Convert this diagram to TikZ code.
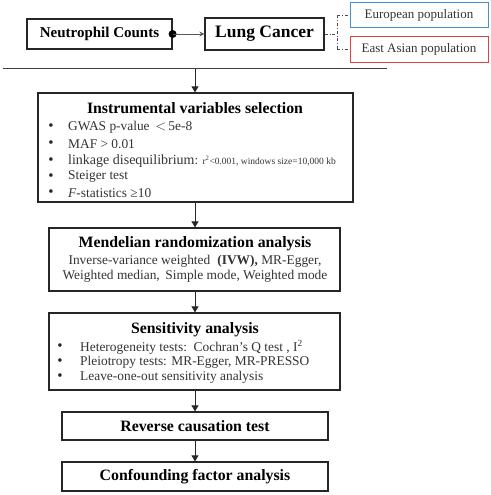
\documentclass[tikz,border=0pt]{standalone}
\usepackage{fontspec}
\setmainfont{Liberation Serif}
\usetikzlibrary{arrows.meta}
\tikzset{
  box/.style={draw=black!85, line width=1.2pt, rectangle, inner sep=0pt},
  flow/.style={draw=black!85, line width=0.9pt, -{Triangle[length=6pt,width=7pt]}},
  ttl/.style={font=\fontsize{15.8}{18}\selectfont\bfseries, inner sep=0pt},
  body/.style={font=\fontsize{13.4}{15}\selectfont, text=black!80, inner sep=0pt},
  bul/.style={font=\fontsize{15}{16}\selectfont, text=black!85, inner sep=0pt},
  pop/.style={draw, line width=1pt, rectangle, inner sep=0pt, minimum width=138pt, minimum height=25.5pt, font=\fontsize{13}{15}\selectfont, text=black!80},
  dd/.style={draw=black!70, line width=0.8pt, dash dot},
}
\definecolor{popblue}{RGB}{70,145,205}
\definecolor{popred}{RGB}{225,65,65}
\begin{document}
\begin{tikzpicture}[x=1pt,y=-1pt]
\useasboundingbox (0,0) rectangle (490,495);
% top row
\node[box, minimum width=145pt, minimum height=30pt, font=\fontsize{15}{17}\selectfont\bfseries] (nc) at (99.5,34) {Neutrophil Counts};
\node[box, minimum width=119pt, minimum height=32pt, font=\fontsize{17.5}{20}\selectfont\bfseries] (lc) at (264.5,34) {Lung Cancer};
\node[pop, draw=popblue] (eu) at (419,15) {European population};
\node[pop, draw=popred] (ea) at (419,49.5) {East Asian population};
\fill[black] (nc.east) circle (4pt);
\draw[draw=black!65, line width=0.8pt, -{Stealth[length=5pt,width=5pt]}] (nc.east) -- (lc.west);
\coordinate (j) at (337,34);
\draw[dd] (lc.east) -- (j);
\draw[dd] (j |- eu.west) -- (j |- ea.west);
\draw[dd] (j |- eu.west) -- (eu.west);
\draw[dd] (j |- ea.west) -- (ea.west);
% separator
\coordinate (hl) at (3,69);
\coordinate (hr) at (387,69);
\coordinate (hm) at (195,69);
\draw[draw=black!75, line width=1pt] (hl) -- (hr);
% boxes
\node[box, minimum width=315pt, minimum height=109pt] (iv) at (195.5,147.5) {};
\node[box, minimum width=291pt, minimum height=63pt] (mr) at (194.5,259.5) {};
\node[box, minimum width=291pt, minimum height=77pt] (se) at (194.5,351.5) {};
\node[box, minimum width=266pt, minimum height=28pt, ttl] (rc) at (195,426) {Reverse causation test};
\node[box, minimum width=266pt, minimum height=29pt, ttl] (cf) at (195,476.5) {Confounding factor analysis};
% arrows
\draw[flow] (hm) -- (hm |- iv.north);
\draw[flow] (iv.south -| hm) -- (hm |- mr.north);
\draw[flow] (mr.south -| hm) -- (hm |- se.north);
\draw[flow] (se.south -| hm) -- (hm |- rc.north);
\draw[flow] (rc.south -| hm) -- (hm |- cf.north);
% IV box text
\node[ttl] (ivt) at (195,108) {Instrumental variables selection};
\foreach \yy in {127,144,161,177,193} \node[bul] at (51,\yy) {•};
\node[body, anchor=west] (iv1) at (68,127) {GWAS p-value \,$<$\,5e-8};
\node[body, anchor=west] (iv2) at (68,144) {MAF > 0.01};
\node[body, anchor=west] (iv3) at (68,161) {\fontsize{14}{15}\selectfont linkage disequilibrium\fontsize{13}{15}\selectfont: \fontsize{9.5}{11}\selectfont r\textsuperscript{2}<0.001, windows size=10,000 kb};
\node[body, anchor=west] (iv4) at (68,177) {Steiger test};
\node[body, anchor=west] (iv5) at (68,193) {\textit{F}-statistics ≥10};
% MR box text
\node[ttl] (mrt) at (195,244) {Mendelian randomization analysis};
\node[body] (mr1) at (195,261.5) {Inverse-variance weighted \;\textbf{(IVW),} MR-Egger,};
\node[body] (mr2) at (195,276.5) {Weighted median, \,Simple mode, Weighted mode};
% Sensitivity text
\node[ttl] (set) at (195,330) {Sensitivity analysis};
\foreach \yy in {347,362,377} \node[bul] at (60,\yy) {•};
\node[body, anchor=west] (se1) at (80,347) {Heterogeneity tests: \,Cochran’s Q test , I\textsuperscript{2}};
\node[body, anchor=west] (se2) at (80,362) {Pleiotropy tests: MR-Egger, MR-PRESSO};
\node[body, anchor=west] (se3) at (80,377) {Leave-one-out sensitivity analysis};
\end{tikzpicture}
\end{document}
